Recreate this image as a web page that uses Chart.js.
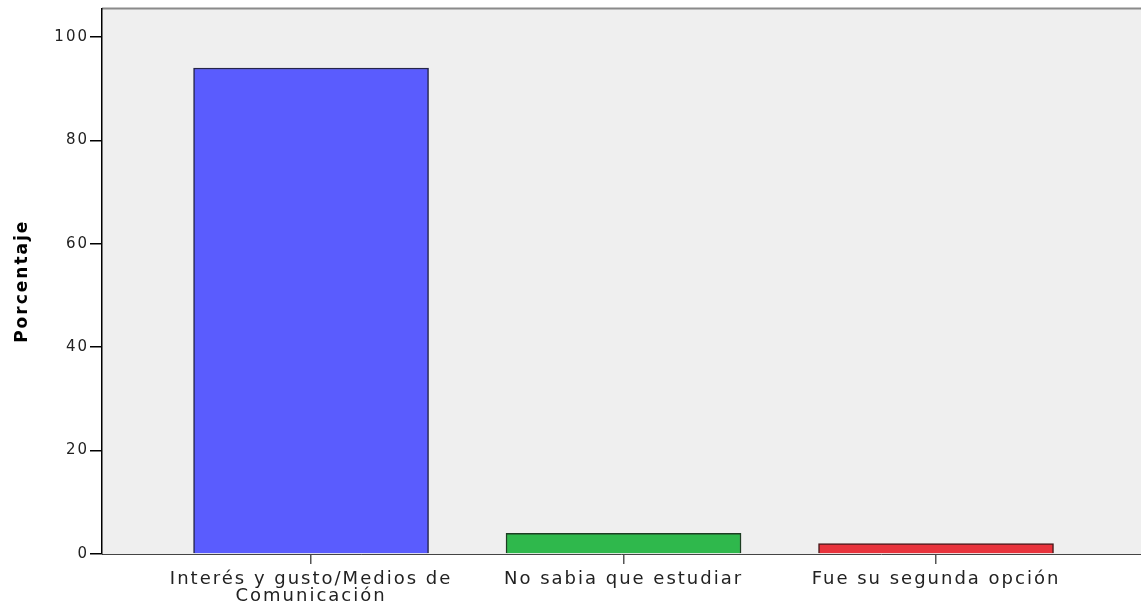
<!DOCTYPE html>
<html>
<head>
<meta charset="utf-8">
<script src="https://cdn.jsdelivr.net/npm/chart.js@4"></script>
<style>
  html, body { margin: 0; padding: 0; background: #fff; overflow: hidden; }
  #wrap { width: 1141px; height: 607px; }
</style>
</head>
<body>
<div id="wrap"><canvas id="chart" width="1141" height="607"></canvas></div>
<script>
const categories = [
    ['Interés y gusto/Medios de', 'Comunicación'],
    'No sabia que estudiar',
    'Fue su segunda opción'
];
const porcentaje = [94, 4, 2];
const yTicks = [0, 20, 40, 60, 80, 100];
const barColors = ['#5a5cfe', '#2fb84c', '#e8333c'];
const barEdges = ['#25254a', '#1d3d22', '#4a1a1c'];

// plot background, top frame line, and the spaced-out lettering
const plotFrame = {
    id: 'plotFrame',
    beforeDraw(chart) {
        const { ctx, chartArea } = chart;
        ctx.letterSpacing = '2px';
        ctx.save();
        ctx.fillStyle = '#efefef';
        ctx.fillRect(chartArea.left, chartArea.top, chartArea.right - chartArea.left, chartArea.bottom - chartArea.top);
        ctx.strokeStyle = '#8a8a8a';
        ctx.lineWidth = 2;
        ctx.beginPath();
        ctx.moveTo(chartArea.left, chartArea.top);
        ctx.lineTo(chartArea.right, chartArea.top);
        ctx.stroke();
        ctx.restore();
    }
};

new Chart(document.getElementById('chart'), {
    type: 'bar',
    data: {
        datasets: [{
            label: 'Porcentaje',
            data: porcentaje.map((v, i) => ({ x: i, y: v })),
            backgroundColor: barColors,
            borderColor: barEdges,
            borderWidth: 1.5,
            barThickness: 235
        }]
    },
    options: {
        responsive: false,
        animation: false,
        layout: { padding: 0 },
        plugins: {
            legend: { display: false },
            tooltip: { enabled: false }
        },
        scales: {
            x: {
                type: 'linear',
                min: -0.669,
                max: 2.656,
                offset: false,
                afterFit: scale => { scale.height = 53; },
                afterBuildTicks: scale => { scale.ticks = categories.map((c, i) => ({ value: i })); },
                grid: { offset: false, drawOnChartArea: false, drawTicks: true, tickLength: 10, color: '#555', lineWidth: 1.5 },
                border: { display: true, color: '#444', width: 1 },
                ticks: {
                    includeBounds: false,
                    autoSkip: false,
                    maxRotation: 0,
                    padding: 7,
                    color: '#222',
                    font: { family: 'DejaVu Sans, sans-serif', size: 18, lineHeight: 0.93 },
                    callback: value => categories[value]
                }
            },
            y: {
                min: 0,
                max: 105.5,
                afterFit: scale => { scale.width = 102; },
                afterBuildTicks: scale => { scale.ticks = yTicks.map(v => ({ value: v })); },
                grid: { drawOnChartArea: false, drawTicks: true, tickLength: 12, color: '#000', lineWidth: 1.5 },
                border: { display: true, color: '#000', width: 1.5 },
                ticks: {
                    includeBounds: false,
                    padding: 1,
                    color: '#222',
                    font: { family: 'DejaVu Sans, sans-serif', size: 15, lineHeight: 1.0 }
                },
                title: {
                    display: true,
                    text: 'Porcentaje',
                    color: '#000',
                    padding: { top: 12, bottom: 0 },
                    font: { family: 'DejaVu Sans, sans-serif', size: 17, weight: 'bold' }
                }
            }
        }
    },
    plugins: [plotFrame]
});
</script>
</body>
</html>
